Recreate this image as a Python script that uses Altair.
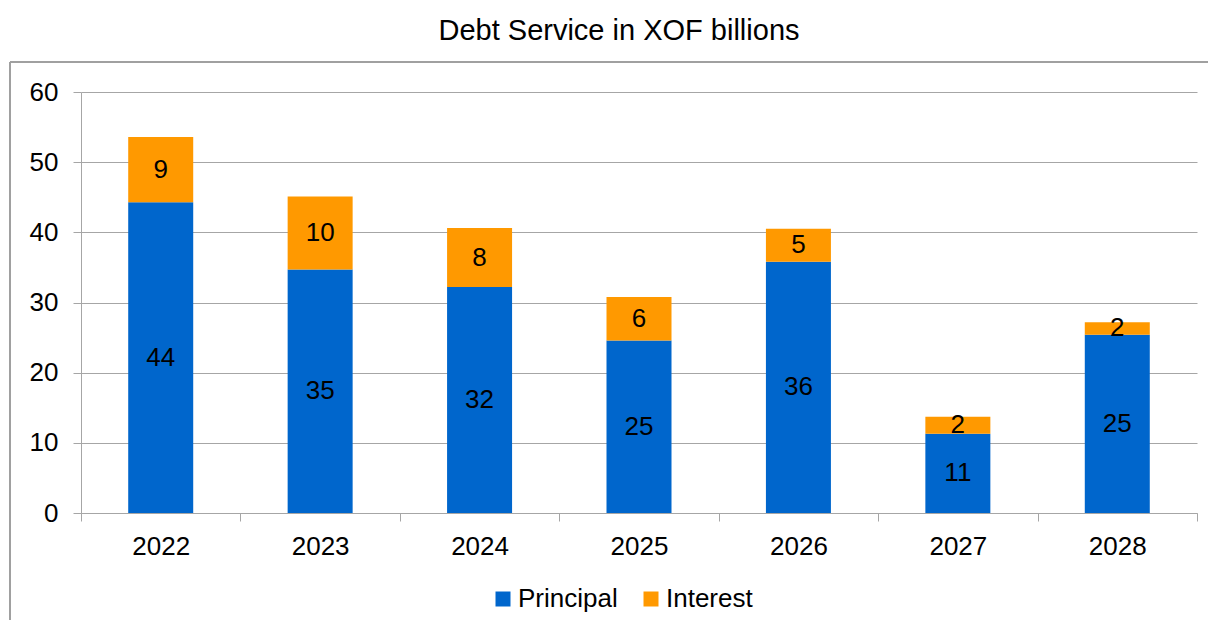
import altair as alt
import pandas as pd

years = ["2022", "2023", "2024", "2025", "2026", "2027", "2028"]
principal = [44.3, 34.7, 32.2, 24.6, 35.8, 11.3, 25.4]
interest = [9.3, 10.4, 8.4, 6.2, 4.7, 2.4, 1.8]
series = ["Principal", "Interest"]
colors = ["#0066CC", "#FF9900"]
y_ticks = [0, 10, 20, 30, 40, 50, 60]

rows = []
for i, yr in enumerate(years):
    rows.append({"year": yr, "series": "Principal", "value": principal[i], "order": 0})
    rows.append({"year": yr, "series": "Interest", "value": interest[i], "order": 1})
df = pd.DataFrame(rows)

FONT = "Liberation Sans"
GRAY = "#A6A6A6"

base = alt.Chart(df).transform_stack(
    stack="value", groupby=["year"], as_=["y0", "y1"],
    sort=[alt.SortField("order", order="ascending")]
).transform_calculate(mid="(datum.y0 + datum.y1) / 2")

xenc = alt.X("year:N", sort=years, title=None,
             scale=alt.Scale(paddingInner=0, paddingOuter=0),
             axis=alt.Axis(tickBand="extent", labelAngle=0, labelFontSize=26,
                           labelFont=FONT, labelColor="black", labelPadding=12,
                           domainColor=GRAY, tickColor=GRAY, tickSize=8, grid=False))

bars = base.mark_bar(size=65).encode(
    x=xenc,
    y=alt.Y("y0:Q", title=None,
            scale=alt.Scale(domain=[0, 60], nice=False),
            axis=alt.Axis(values=y_ticks, labelFontSize=26, labelFont=FONT,
                          labelColor="black", labelPadding=15,
                          domainColor=GRAY, tickColor=GRAY, tickSize=8,
                          grid=True, gridColor=GRAY, gridWidth=1)),
    y2="y1:Q",
    color=alt.Color("series:N", scale=alt.Scale(domain=series, range=colors),
                    sort=series,
                    legend=alt.Legend(title=None, orient="none", direction="horizontal",
                                      legendX=409, legendY=494, symbolType="square",
                                      symbolSize=225, symbolStrokeWidth=0,
                                      labelFontSize=26, labelFont=FONT, labelColor="black",
                                      labelOffset=2, columnPadding=20)),
)

labels = base.mark_text(fontSize=26, font=FONT, color="black").encode(
    x=alt.X("year:N", sort=years),
    y=alt.Y("mid:Q"),
    text=alt.Text("value:Q", format=".0f"),
)

frame_left = alt.Chart(df).mark_rule(color="#A0A0A0", strokeWidth=1.5).encode(
    x=alt.value(-71), y=alt.value(-30), y2=alt.value(560)
)
frame_top = alt.Chart(df).mark_rule(color="#A0A0A0", strokeWidth=1.5).encode(
    x=alt.value(-71), x2=alt.value(1135), y=alt.value(-30)
)

chart = alt.layer(frame_left, frame_top, bars, labels).properties(
    width=1116, height=421,
    title=alt.TitleParams("Debt Service in XOF billions", fontSize=29, font=FONT,
                          fontWeight="normal", color="black", offset=15, dx=-20,
                          frame="group"),
    background="white",
    padding={"left": 73, "top": 84, "right": 11, "bottom": 107},
    autosize=alt.AutoSizeParams(type="none"),
).configure_view(stroke=None)

chart.save("out.html", embed_options={"renderer": "svg", "actions": False})
